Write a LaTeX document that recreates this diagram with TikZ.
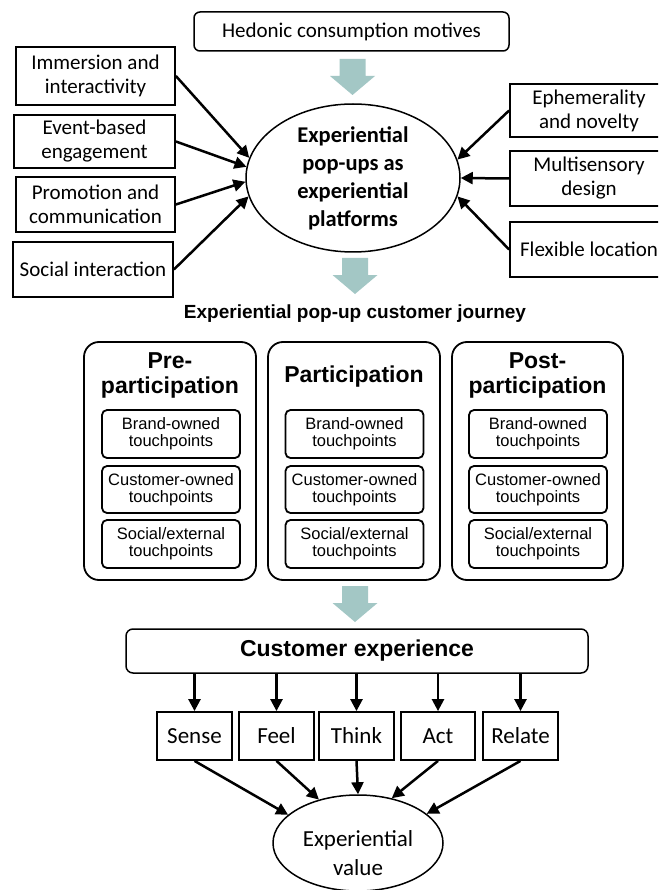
\documentclass[tikz,border=0pt]{standalone}
\usepackage{fontspec}
\setmainfont{Carlito}
\newfontfamily\arialfont{Liberation Sans}
\usetikzlibrary{arrows.meta,shapes.geometric}
\definecolor{flowteal}{RGB}{163,199,197}

\tikzset{
  sidebox/.style={draw, line width=1.8pt, align=center, inner sep=0pt,
    font=\fontsize{21}{24}\selectfont},
  topbox/.style={draw, line width=1.5pt, rounded corners=6pt, inner sep=0pt,
    font=\fontsize{21}{24}\selectfont},
  phasebox/.style={draw, line width=1.8pt, rounded corners=15pt, inner sep=0pt,
    minimum width=172pt, minimum height=238pt},
  phasetitle/.style={align=center, inner sep=0pt,
    font=\arialfont\bfseries\fontsize{23}{25.5}\selectfont},
  tpbox/.style={draw, line width=1.8pt, rounded corners=5pt, inner sep=0pt,
    align=center, minimum width=138pt, minimum height=47pt,
    font=\arialfont\fontsize{16.5}{17}\selectfont},
  dimbox/.style={draw, line width=1.8pt, inner sep=0pt,
    minimum width=75pt, minimum height=48pt,
    font=\fontsize{23}{27}\selectfont},
  arr/.style={-{Triangle[length=12pt,width=12pt]}, line width=2.5pt},
  downarrow/.pic={
    \fill[flowteal] (-13,0) -- (13,0) -- (13,17) -- (22.5,17) -- (0,36)
      -- (-22.5,17) -- (-13,17) -- cycle;}
}

\begin{document}
\begin{tikzpicture}[x=1pt,y=-1pt]
\useasboundingbox (0,0) rectangle (658,890);
\clip (0,0) rectangle (658,890);
\fill[white] (0,0) rectangle (658,890);

% ---- motives and platform ----
\node[topbox, minimum width=315pt, minimum height=39pt] (hed) at (351.5,31.5)
  {Hedonic consumption motives};
\pic at (352.5,59) {downarrow};

\node[draw, ellipse, line width=1.5pt, minimum width=214pt, minimum height=148pt,
  inner sep=0pt, align=center, font=\bfseries\fontsize{22.5}{28}\selectfont]
  (plat) at (353,178) {Experiential\\pop-ups as\\experiential\\platforms};

\node[sidebox, minimum width=159pt, minimum height=58pt] (imm) at (95.5,76)
  {Immersion and\\interactivity};
\node[sidebox, minimum width=161pt, minimum height=53pt] (evt) at (94.5,141.5)
  {Event-based\\engagement};
\node[sidebox, minimum width=159pt, minimum height=55pt] (pro) at (95.5,204.5)
  {Promotion and\\communication};
\node[sidebox, minimum width=160pt, minimum height=55pt] (soc) at (93,269.5)
  {Social interaction};

\node[sidebox, minimum width=158pt, minimum height=53pt] (eph) at (589,110.5)
  {Ephemerality\\and novelty};
\node[sidebox, minimum width=158pt, minimum height=55pt] (mul) at (589,178.5)
  {Multisensory\\design};
\node[sidebox, minimum width=158pt, minimum height=55pt] (flx) at (589,249.5)
  {Flexible location};

\draw[arr] (imm.east) -- (plat.169);
\draw[arr] (evt.east) -- (plat.174);
\draw[arr] (pro.east) -- (plat.182);
\draw[arr] (soc.east) -- (plat.190);
\draw[arr] (eph.west) -- (plat.10);
\draw[arr] (mul.west) -- (plat.0);
\draw[arr] (flx.west) -- (plat.350);

\pic at (355,258) {downarrow};

% ---- customer journey ----
\node[inner sep=0pt, font=\arialfont\bfseries\fontsize{19}{22}\selectfont]
  (jt) at (355,314) {Experiential pop-up customer journey};

\node[phasebox] (pre) at (170,461) {};
\node[phasebox] (par) at (354,461) {};
\node[phasebox, minimum width=171pt] (post) at (537.5,461) {};

\node[phasetitle] (pret) at (170,375.5) {Pre-\\participation};
\node[phasetitle] (part) at (354,377) {Participation};
\node[phasetitle] (postt) at (537.5,375.5) {Post-\\participation};

\foreach \nm/\cx in {pre/171, par/354.5, post/538}{
  \node[tpbox, minimum height=48pt] (\nm-brand) at (\cx,434) {Brand-owned\\touchpoints};
  \node[tpbox] (\nm-cust) at (\cx,489.5) {Customer-owned\\touchpoints};
  \node[tpbox, minimum height=48pt] (\nm-soc) at (\cx,544) {Social/external\\touchpoints};
}

\pic at (355,586) {downarrow};

% ---- customer experience ----
\node[draw, line width=1.5pt, rounded corners=7pt, inner sep=0pt,
  minimum width=462pt, minimum height=44pt,
  font=\arialfont\bfseries\fontsize{23}{26}\selectfont]
  (cx) at (357,651) {Customer experience};

\node[dimbox] (sense) at (194.5,736) {Sense};
\node[dimbox] (feel) at (276.5,736) {Feel};
\node[dimbox] (think) at (356.5,736) {Think};
\node[dimbox, minimum width=74pt] (act) at (438,736) {Act};
\node[dimbox] (rel) at (520.5,736) {Relate};

\foreach \d in {sense,feel,think,act,rel}{
  \draw[arr] (\d.north |- cx.south) -- (\d.north);
}

% value ellipse, its label sitting a little below the centre
\node[draw, ellipse, line width=1.5pt, minimum width=170pt, minimum height=96pt,
  inner sep=0pt] (val) at (358,843) {};
\node[inner sep=0pt, align=center, font=\fontsize{23}{29}\selectfont]
  (valtext) at ([yshift=-10pt]val.center) {Experiential\\value};

\draw[arr] (sense.south) -- (val.158);
\draw[arr] (feel.south) -- (val.132);
\draw[arr] (think.south) -- (val.90);
\draw[arr] (act.south) -- (val.53);
\draw[arr] (rel.south) -- (val.23);
\end{tikzpicture}
\end{document}
